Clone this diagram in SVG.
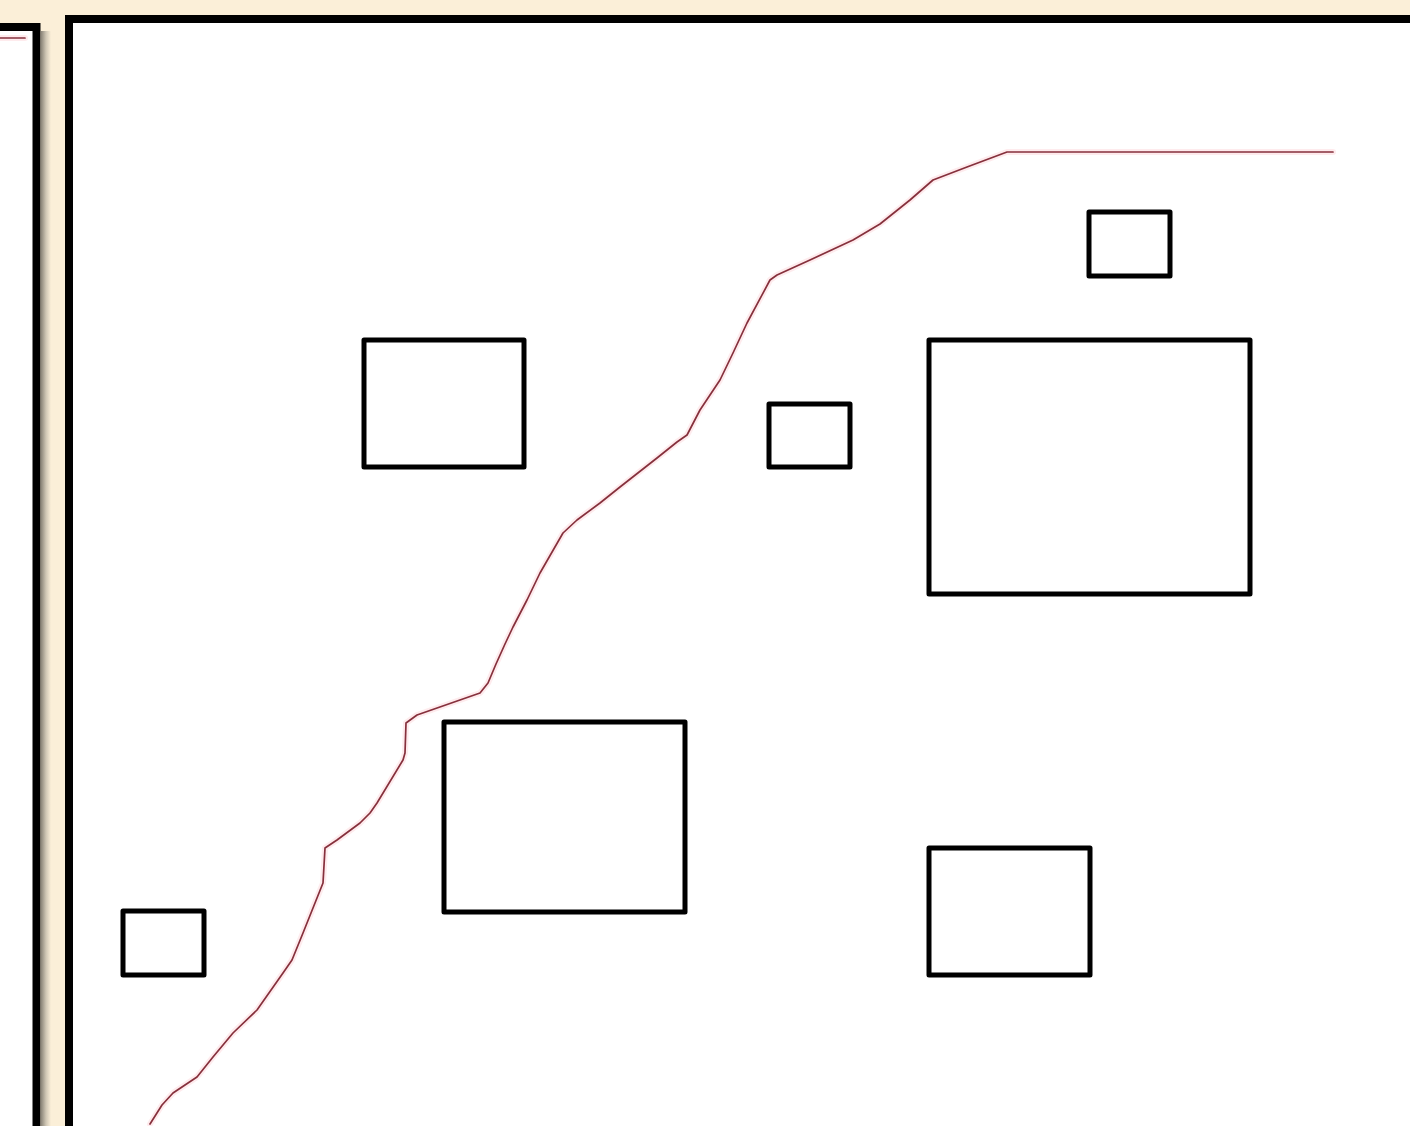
<svg xmlns="http://www.w3.org/2000/svg" width="1410" height="1126" viewBox="0 0 1410 1126">
  <defs>
    <linearGradient id="shadow" x1="0" y1="0" x2="1" y2="0">
      <stop offset="0" stop-color="#8a8478"/>
      <stop offset="0.5" stop-color="#cfc6b4"/>
      <stop offset="1" stop-color="#fbefd8"/>
    </linearGradient>
    <style>
      .frame { fill: #ffffff; stroke: #000000; stroke-width: 8; }
      .box { fill: #ffffff; stroke: #000000; stroke-width: 5; stroke-linejoin: round; }
      .halo { fill: none; stroke: #fde3e6; stroke-width: 6; stroke-linejoin: round; stroke-linecap: round; opacity: 0.7; }
      .route { fill: none; stroke: #86303c; stroke-width: 1.7; stroke-linejoin: round; stroke-linecap: round; }
    </style>
  </defs>

  <rect x="0" y="0" width="1410" height="1126" fill="#fbefd8"/>

  <g id="left-panel">
    <rect x="41" y="31" width="10" height="1095" fill="url(#shadow)"/>
    <rect x="-10" y="27" width="46.5" height="1120" class="frame"/>
    <line x1="0" y1="38" x2="25" y2="38" class="halo"/>
    <line x1="0" y1="38" x2="25" y2="38" class="route"/>
  </g>

  <g id="right-panel">
    <rect x="69" y="19" width="1360" height="1120" class="frame"/>
  </g>

  <g id="connectors">
    <polyline class="halo" points="150,1124 162,1105 173,1093 197,1077 213,1057 233,1033 257,1010 283,973 292,960 303,933 323,883 325,848 337,840 360,823 370,813 377,803 403,760 405,753 406,723 417,715 480,693 488,683 496,664 505,644 513,627 527,600 540,573 563,533 577,520 600,503 620,487 657,458 677,442 687,435 700,410 720,380 733,353 747,323 770,280 777,275 810,260 853,240 880,224 910,200 933,180 967,167 1007,152 1333,152"/>
    <polyline class="route" points="150,1124 162,1105 173,1093 197,1077 213,1057 233,1033 257,1010 283,973 292,960 303,933 323,883 325,848 337,840 360,823 370,813 377,803 403,760 405,753 406,723 417,715 480,693 488,683 496,664 505,644 513,627 527,600 540,573 563,533 577,520 600,503 620,487 657,458 677,442 687,435 700,410 720,380 733,353 747,323 770,280 777,275 810,260 853,240 880,224 910,200 933,180 967,167 1007,152 1333,152"/>
  </g>

  <g id="box-1"><rect x="364" y="340" width="160" height="127" class="box"/></g>
  <g id="box-2"><rect x="769" y="404" width="81" height="63" class="box"/></g>
  <g id="box-3"><rect x="929" y="340" width="321" height="254" class="box"/></g>
  <g id="box-4"><rect x="1089" y="212" width="81" height="64" class="box"/></g>
  <g id="box-5"><rect x="444" y="722" width="241" height="190" class="box"/></g>
  <g id="box-6"><rect x="929" y="848" width="161" height="127" class="box"/></g>
  <g id="box-7"><rect x="123" y="911" width="81" height="64" class="box"/></g>
</svg>
